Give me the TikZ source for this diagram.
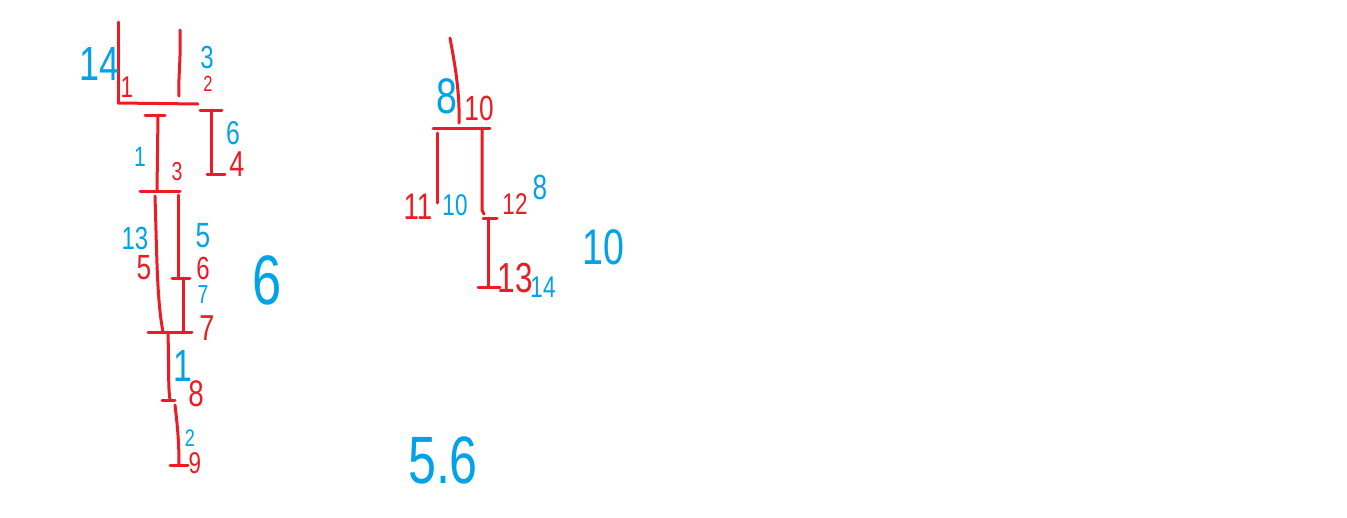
\documentclass[tikz,border=0pt]{standalone}
\usepackage{fontspec}
\setmainfont{Liberation Sans}
\definecolor{pred}{RGB}{237,28,36}
\definecolor{pblue}{RGB}{0,162,232}
\tikzset{
  stroke/.style={pred, line width=3pt, line cap=round, line join=round},
  rl/.style={text=pred, inner sep=0pt, xscale=0.75},
  bl/.style={text=pblue, inner sep=0pt, xscale=0.75},
}
\newcommand{\fs}[1]{\fontsize{#1}{#1}\selectfont}
\begin{document}
\begin{tikzpicture}[x=1pt,y=-1pt]
\useasboundingbox[fill=white] (0,0) rectangle (1347,517);
% ---------- left tree ----------
\draw[stroke] (118,22) -- (118,102);
\draw[stroke] (180,30) .. controls (181,60) and (178,80) .. (179,96);
\draw[stroke] (118,103) -- (198,104);
% I bar 1/3
\draw[stroke] (145,115) -- (165,115);
\draw[stroke] (158,115) -- (157,191);
\draw[stroke] (140,191) -- (180,191);
% I bar 6/4
\draw[stroke] (200,110) -- (222,110);
\draw[stroke] (211,110) -- (211,174);
\draw[stroke] (207,174) -- (225,174);
% two branches
\draw[stroke] (155,196) .. controls (157,260) and (157,300) .. (163,332);
\draw[stroke] (178,195) -- (178,278);
\draw[stroke] (172,278) -- (190,278);
\draw[stroke] (183,278) -- (183,332);
\draw[stroke] (148,332) -- (192,332);
\draw[stroke] (168,332) .. controls (169,370) and (168,385) .. (170,400);
\draw[stroke] (162,400) -- (175,400);
\draw[stroke] (175,405) .. controls (178,430) and (179,445) .. (179,465);
\draw[stroke] (170,465) -- (188,465);
% ---------- right tree ----------
\draw[stroke] (450,38) .. controls (454,60) and (460,90) .. (459,123);
\draw[stroke] (433,128) -- (490,128);
\draw[stroke] (437,133) -- (437,203);
\draw[stroke] (482,128) -- (482,210) -- (484,214);
\draw[stroke] (483,218) -- (497,218);
\draw[stroke] (488,218) -- (488,287);
\draw[stroke] (478,287) -- (500,287);
% ---------- labels ----------
\node[bl] (b14) at (100,64) {\fs{48}14};
\node[rl] (r1) at (127,87) {\fs{30}1};
\node[bl] (b3) at (207,57) {\fs{32}3};
\node[rl] (r2) at (208,84) {\fs{22}2};
\node[bl] (b6a) at (233,133) {\fs{33}6};
\node[rl] (r4) at (237,164) {\fs{36}4};
\node[bl] (b1a) at (140,157) {\fs{28}1};
\node[rl] (r3) at (177,172) {\fs{26}3};
\node[bl] (b13) at (135,238) {\fs{32}13};
\node[rl] (r5) at (144,268) {\fs{35}5};
\node[bl] (b5) at (203,236) {\fs{35}5};
\node[rl] (r6) at (203,268) {\fs{32}6};
\node[bl] (b7) at (203,295) {\fs{26}7};
\node[rl] (r7) at (207,328) {\fs{36}7};
\node[bl] (b1b) at (183,366) {\fs{45}1};
\node[rl] (r8) at (196,394) {\fs{37}8};
\node[bl] (b2) at (190,438) {\fs{24}2};
\node[rl] (r9) at (195,463) {\fs{30}9};
\node[bl] (b6b) at (267,280) {\fs{70}6};
\node[bl] (b8a) at (447,96) {\fs{50}8};
\node[rl] (r10) at (479,108) {\fs{35}10};
\node[rl] (r11) at (418,207) {\fs{37}11};
\node[bl] (b10a) at (455,205) {\fs{30}10};
\node[rl] (r12) at (515,204) {\fs{30}12};
\node[bl] (b8b) at (540,187) {\fs{35}8};
\node[rl] (r13) at (515,278) {\fs{42}13};
\node[bl] (b14b) at (543,287) {\fs{30}14};
\node[bl] (b10b) at (603,247) {\fs{50}10};
\node[bl] (b56) at (443,460) {\fs{67}5.6};
\end{tikzpicture}
\end{document}
